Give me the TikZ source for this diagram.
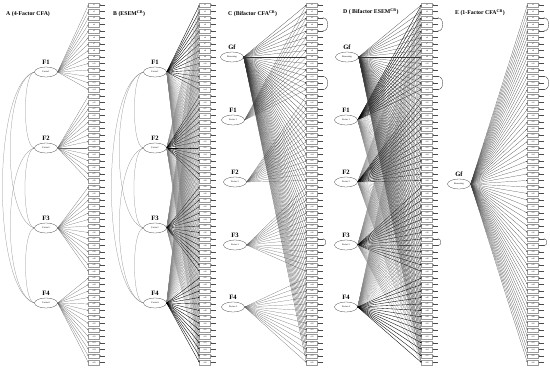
\documentclass[tikz,border=0pt]{standalone}
\usepackage{fontspec}
\setmainfont{Liberation Serif}
\usepackage{tikz}
\usetikzlibrary{arrows.meta,calc,positioning,shapes.geometric}
\definecolor{loadgray}{HTML}{4A4A4A}
\definecolor{boxgray}{HTML}{9A9A9A}

\begin{document}
\begin{tikzpicture}[x=1pt, y=-1pt,
    item/.style={rectangle, draw=boxgray, fill=white, minimum width=11pt, minimum height=4.4pt,
      inner sep=0pt, font=\fontsize{2}{2}\selectfont, line width=0.2pt},
    lat/.style={ellipse, draw=black!70, fill=white, minimum width=23pt, minimum height=10pt,
      inner sep=0pt, font=\fontsize{2.3}{2.3}\selectfont, line width=0.3pt},
    flab/.style={font=\fontsize{6.6}{7}\selectfont\bfseries, inner sep=0pt},
    ttl/.style={font=\fontsize{5.8}{6}\selectfont\bfseries, anchor=west, inner sep=0pt},
    ld/.style={-{Stealth[length=1.5pt,width=1.1pt]}, line width=0.2pt, draw=black!60},
    ldm/.style={-{Stealth[length=1.5pt,width=1.1pt]}, line width=0.35pt, draw=black},
    ldx/.style={-{Stealth[length=1.2pt,width=0.9pt]}, line width=0.12pt, draw=loadgray!70},
    res/.style={-{Stealth[length=1.3pt,width=1pt]}, line width=0.2pt, draw=black!70},
    cov/.style={{Stealth[length=1.4pt,width=1pt]}-{Stealth[length=1.4pt,width=1pt]}, line width=0.25pt, draw=black!45},
    corr/.style={{Stealth[length=1.2pt,width=0.9pt]}-{Stealth[length=1.2pt,width=0.9pt]}, line width=0.3pt, draw=black!80}]

\fill[white] (0,0) rectangle (550,372);
\useasboundingbox (0,0) rectangle (550,372);

% panel titles
\node[ttl] (ta) at (6,14) {A (4-Factor CFA)};
\node[ttl] (tb) at (113,14) {B (ESEM\textsuperscript{CB})};
\node[ttl] (tc) at (228,14) {C (Bifactor CFA\textsuperscript{CB})};
\node[ttl] (td) at (343,12) {D ( Bifactor ESEM\textsuperscript{CB})};
\node[ttl] (te) at (455,13) {E (1-Factor CFA\textsuperscript{CB})};

% item columns with residuals
\foreach \p/\x in {a/94,b/205,c/312,d/427,e/533} {
  \foreach \i in {1,...,56} {
    \node[item] (\p\i) at (\x,{5+(\i-1)*6.5}) {x\i};
    \coordinate (r\p\i) at ($(\p\i.east)+(5,0)$);
    \draw[res] (r\p\i) -- (\p\i.east);
  }
}

% factors of A and B
\foreach \f/\y in {1/72,2/148,3/228,4/303} {
  \node[lat] (fa\f) at (46,\y) {Factor\f};
  \node[flab, above=2.5pt of fa\f] (la\f) {F\f};
  \node[lat] (fb\f) at (155,\y) {Factor\f};
  \node[flab, above=2.5pt of fb\f] (lb\f) {F\f};
}

% general and group factors of C, D, E
\node[lat] (gc) at (232,57) {Reasoning};
\node[flab, above=2.5pt of gc] (lgc) {Gf};
\node[lat] (gd) at (347,57) {Reasoning};
\node[flab, above=2.5pt of gd] (lgd) {Gf};
\node[lat] (ge) at (459,184) {Reasoning};
\node[flab, above=2.5pt of ge] (lge) {Gf};
\foreach \f/\x/\y in {1/233/120,2/235/182,3/235/245,4/233/307} {
  \node[lat] (fc\f) at (\x,\y) {Factor \f};
  \node[flab, above=2.5pt of fc\f] (lc\f) {F\f};
  \node[lat] (fd\f) at (346,\y) {Factor \f};
  \node[flab, above=2.5pt of fd\f] (ld\f) {F\f};
}

% loadings
\foreach \f in {1,...,4} {
  \foreach \k in {1,...,14} {
    \pgfmathtruncatemacro{\itm}{(\f-1)*14+\k}
    \draw[ld] (fa\f.east) -- (a\itm.west);
    \draw[ld] (fc\f.east) -- (c\itm.west);
  }
  \foreach \i in {1,...,56} {
    \pgfmathtruncatemacro{\own}{int((\i-1)/14)+1}
    \ifnum\own=\f
      \draw[ldm] (fb\f.east) -- (b\i.west);
      \draw[ldm] (fd\f.east) -- (d\i.west);
    \else
      \draw[ldx] (fb\f.east) -- (b\i.west);
      \draw[ldx] (fd\f.east) -- (d\i.west);
    \fi
  }
}
\foreach \i in {1,...,56} {
  \draw[ld, draw=black!80] (gc.east) -- (c\i.west);
  \draw[ld, draw=black!80] (gd.east) -- (d\i.west);
  \draw[ld, draw=black!75] (ge.east) -- (e\i.west);
}

% factor covariances
\foreach \p in {a,b} {
  \foreach \u/\v/\l in {1/2/0.42,2/3/0.42,3/4/0.42,1/3/0.56,2/4/0.56,1/4/0.5} {
    \draw[cov] (f\p\u.west) to[out=200,in=160,looseness=\l] (f\p\v.west);
  }
}

% correlated residuals
\foreach \p in {c,d,e} {
  \draw[corr] (r\p3) to[out=0,in=0,looseness=1.3] (r\p5);
  \draw[corr] (r\p12) to[out=0,in=0,looseness=1.3] (r\p14);
  \draw[corr] (r\p37) to[out=0,in=0,looseness=1.6] (r\p38);
}
\end{tikzpicture}
\end{document}
